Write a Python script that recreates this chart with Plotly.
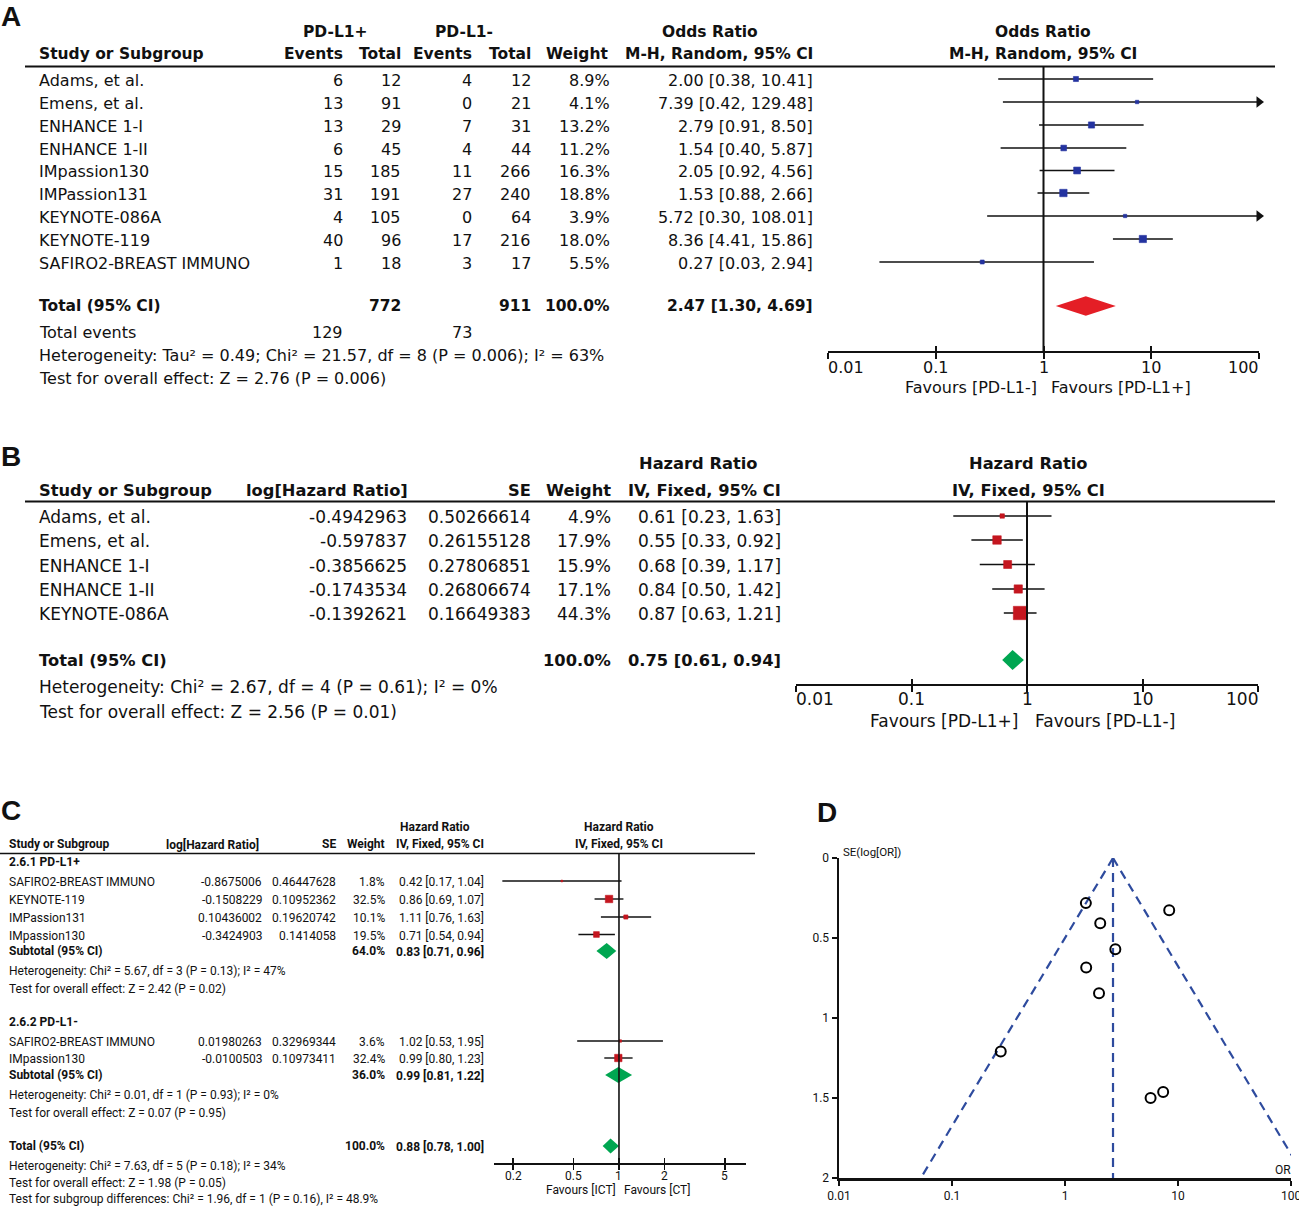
import math
import plotly.graph_objects as go

W, H = 1299, 1207

# ---------------- Panel A data ----------------
a_studies = ["Adams, et al.", "Emens, et al.", "ENHANCE 1-I", "ENHANCE 1-II", "IMpassion130",
             "IMPassion131", "KEYNOTE-086A", "KEYNOTE-119", "SAFIRO2-BREAST IMMUNO"]
a_ev_pos = [6, 13, 13, 6, 15, 31, 4, 40, 1]
a_tot_pos = [12, 91, 29, 45, 185, 191, 105, 96, 18]
a_ev_neg = [4, 0, 7, 4, 11, 27, 0, 17, 3]
a_tot_neg = [12, 21, 31, 44, 266, 240, 64, 216, 17]
a_weight = [8.9, 4.1, 13.2, 11.2, 16.3, 18.8, 3.9, 18.0, 5.5]
a_or = [2.00, 7.39, 2.79, 1.54, 2.05, 1.53, 5.72, 8.36, 0.27]
a_lo = [0.38, 0.42, 0.91, 0.40, 0.92, 0.88, 0.30, 4.41, 0.03]
a_hi = [10.41, 129.48, 8.50, 5.87, 4.56, 2.66, 108.01, 15.86, 2.94]
a_total = dict(tot_pos=772, tot_neg=911, weight=100.0, est=2.47, lo=1.30, hi=4.69, ev_pos=129, ev_neg=73)
a_ticks = [0.01, 0.1, 1, 10, 100]
a_tick_labels = ["0.01", "0.1", "1", "10", "100"]

# ---------------- Panel B data ----------------
b_studies = ["Adams, et al.", "Emens, et al.", "ENHANCE 1-I", "ENHANCE 1-II", "KEYNOTE-086A"]
b_loghr = [-0.4942963, -0.597837, -0.3856625, -0.1743534, -0.1392621]
b_se = [0.50266614, 0.26155128, 0.27806851, 0.26806674, 0.16649383]
b_weight = [4.9, 17.9, 15.9, 17.1, 44.3]
b_hr = [0.61, 0.55, 0.68, 0.84, 0.87]
b_lo = [0.23, 0.33, 0.39, 0.50, 0.63]
b_hi = [1.63, 0.92, 1.17, 1.42, 1.21]
b_total = dict(weight=100.0, est=0.75, lo=0.61, hi=0.94)

# ---------------- Panel C data ----------------
c1_studies = ["SAFIRO2-BREAST IMMUNO", "KEYNOTE-119", "IMPassion131", "IMpassion130"]
c1_loghr = [-0.8675006, -0.1508229, 0.10436002, -0.3424903]
c1_se = [0.46447628, 0.10952362, 0.19620742, 0.1414058]
c1_weight = [1.8, 32.5, 10.1, 19.5]
c1_hr = [0.42, 0.86, 1.11, 0.71]
c1_lo = [0.17, 0.69, 0.76, 0.54]
c1_hi = [1.04, 1.07, 1.63, 0.94]
c1_sub = dict(weight=64.0, est=0.83, lo=0.71, hi=0.96)

c2_studies = ["SAFIRO2-BREAST IMMUNO", "IMpassion130"]
c2_loghr = [0.01980263, -0.0100503]
c2_se = [0.32969344, 0.10973411]
c2_weight = [3.6, 32.4]
c2_hr = [1.02, 0.99]
c2_lo = [0.53, 0.80]
c2_hi = [1.95, 1.23]
c2_sub = dict(weight=36.0, est=0.99, lo=0.81, hi=1.22)
c_total = dict(weight=100.0, est=0.88, lo=0.78, hi=1.00)
c_ticks = [0.2, 0.5, 1, 2, 5]
c_tick_labels = ["0.2", "0.5", "1", "2", "5"]

# ---------------- Panel D data (funnel) ----------------
d_or = [2.00, 7.39, 2.79, 1.54, 2.05, 1.53, 5.72, 8.36, 0.27]
d_se = [0.845, 1.462, 0.570, 0.685, 0.408, 0.282, 1.500, 0.327, 1.21]
d_center = 2.66
d_left_at_se2 = 0.053
d_right_at_se2 = 134.0
d_xticks = [0.01, 0.1, 1, 10, 100]
d_xtick_labels = ["0.01", "0.1", "1", "10", "100"]
d_yticks = [0, 0.5, 1, 1.5, 2]
d_ytick_labels = ["0", "0.5", "1", "1.5", "2"]

# ---------------- styling ----------------
INK = "#111111"
FA = "DejaVu Sans"
FC = "Liberation Sans Narrow, Roboto, sans-serif"
FL = "Liberation Sans, Arial, sans-serif"
BLUE = "#2433A0"
RED_D = "#E41E26"
RED_SQ = "#C4161F"
GREEN = "#00A651"
FUNNEL = "#2E4B9E"

fig = go.Figure()
ann = []


def txt(x, y, s, anchor="left", size=16, bold=False, family=FA, xref="x", xshift=0):
    ann.append(dict(x=x, y=y, xref=xref, yref="y", text=("<b>%s</b>" % s) if bold else s,
                    showarrow=False, xanchor=anchor, yanchor="middle", xshift=xshift,
                    borderpad=0, borderwidth=0,
                    font=dict(size=size, family=family, color=INK)))


def hline(x0, x1, y, w=2):
    fig.add_trace(go.Scatter(x=[x0, x1], y=[y, y], xaxis="x", yaxis="y", mode="lines",
                             line=dict(color=INK, width=w), hoverinfo="skip", showlegend=False))


def forest(xa, rows, lo, hi, est, weights, k, color, xmax, lw=1.6):
    for r, l, h in zip(rows, lo, hi):
        hh = min(h, xmax)
        fig.add_trace(go.Scatter(x=[l, hh], y=[r, r], xaxis=xa, yaxis="y", mode="lines",
                                 line=dict(color=INK, width=lw), hoverinfo="skip", showlegend=False))
        if h > xmax:
            fig.add_trace(go.Scatter(x=[xmax], y=[r], xaxis=xa, yaxis="y", mode="markers",
                                     marker=dict(symbol="triangle-right", size=10, color=INK),
                                     cliponaxis=False, hoverinfo="skip", showlegend=False))
    fig.add_trace(go.Scatter(x=est, y=rows, xaxis=xa, yaxis="y", mode="markers",
                             marker=dict(symbol="square", size=[k * math.sqrt(w) for w in weights],
                                         color=color, opacity=1, line=dict(width=0.6, color=color)),
                             cliponaxis=False, hoverinfo="skip", showlegend=False))


def diamond(xa, y, d, half, color):
    fig.add_trace(go.Scatter(x=[d["lo"], d["est"], d["hi"], d["est"], d["lo"]],
                             y=[y, y - half, y, y + half, y], xaxis=xa, yaxis="y",
                             mode="lines", fill="toself", fillcolor=color, line=dict(width=0, color=color),
                             hoverinfo="skip", showlegend=False))


def vline1(xa, y0, y1, lw=2):
    fig.add_trace(go.Scatter(x=[1, 1], y=[y0, y1], xaxis=xa, yaxis="y", mode="lines",
                             line=dict(color=INK, width=lw), hoverinfo="skip", showlegend=False))


layout_axes = {}


def faxis(main, inner, d0, d1, rng, ypos, tickvals, lw=2, tl=6):
    base = dict(type="log", range=rng, domain=[d0 / W, d1 / W], anchor="free", position=1 - ypos / H,
                tickvals=tickvals, showticklabels=False, showgrid=False, zeroline=False,
                fixedrange=True, automargin=False, tickwidth=lw, tickcolor=INK, ticklen=tl)
    layout_axes[main] = dict(base, showline=True, linewidth=lw, linecolor=INK, ticks="outside")
    layout_axes[inner] = dict(base, showline=False, ticks="inside")


def fmt_ci(e, l, h):
    return "%.2f [%.2f, %.2f]" % (e, l, h)


# ================= Panel A =================
AB = 15.5
txt(1, 16, "A", size=28, bold=True, family=FL)
txt(335, 32, "PD-L1+", anchor="center", bold=True, size=AB)
txt(464, 32, "PD-L1-", anchor="center", bold=True, size=AB)
txt(710, 32, "Odds Ratio", anchor="center", bold=True, size=AB)
txt(1043, 32, "Odds Ratio", anchor="center", bold=True, size=AB)
txt(39, 54, "Study or Subgroup", bold=True, size=AB)
txt(343, 54, "Events", anchor="right", bold=True, size=AB)
txt(401, 54, "Total", anchor="right", bold=True, size=AB)
txt(472, 54, "Events", anchor="right", bold=True, size=AB)
txt(531, 54, "Total", anchor="right", bold=True, size=AB)
txt(609, 54, "Weight", anchor="right", bold=True, size=AB)
txt(813, 54, "M-H, Random, 95% CI", anchor="right", bold=True, size=AB)
txt(1043, 54, "M-H, Random, 95% CI", anchor="center", bold=True, size=AB)
hline(25, 1275, 66.5)

a_rows = [80, 103, 126, 149, 171.5, 194, 217, 240, 263]
for i, r in enumerate(a_rows):
    txt(39, r, a_studies[i])
    txt(343, r, str(a_ev_pos[i]), anchor="right")
    txt(401, r, str(a_tot_pos[i]), anchor="right")
    txt(472, r, str(a_ev_neg[i]), anchor="right")
    txt(531, r, str(a_tot_neg[i]), anchor="right")
    txt(610, r, "%.1f%%" % a_weight[i], anchor="right")
    txt(813, r, fmt_ci(a_or[i], a_lo[i], a_hi[i]), anchor="right")
a_tot_row = 306
txt(39, a_tot_row, "Total (95% CI)", bold=True, size=AB)
txt(401, a_tot_row, str(a_total["tot_pos"]), anchor="right", bold=True, size=AB)
txt(531, a_tot_row, str(a_total["tot_neg"]), anchor="right", bold=True, size=AB)
txt(610, a_tot_row, "%.1f%%" % a_total["weight"], anchor="right", bold=True, size=AB)
txt(813, a_tot_row, fmt_ci(a_total["est"], a_total["lo"], a_total["hi"]), anchor="right", bold=True, size=AB)
txt(39, 332, "Total events")
txt(343, 332, str(a_total["ev_pos"]), anchor="right")
txt(472, 332, str(a_total["ev_neg"]), anchor="right")
txt(39, 355, "Heterogeneity: Tau² = 0.49; Chi² = 21.57, df = 8 (P = 0.006); I² = 63%")
txt(39, 378, "Test for overall effect: Z = 2.76 (P = 0.006)")

faxis("xaxis2", "xaxis3", 828, 1259, [-2, 2], 352, a_ticks)
vline1("x3", 66.5, 352)
forest("x2", [r - 1 for r in a_rows], a_lo, a_hi, a_or, a_weight, 1.7, BLUE, 100)
diamond("x2", a_tot_row, a_total, 9.7, RED_D)
for v, lab in zip(a_ticks, a_tick_labels):
    anc = "left" if v == a_ticks[0] else ("right" if v == a_ticks[-1] else "center")
    txt(math.log10(v), 367, lab, anchor=anc, xref="x2")
txt(0, 387, "Favours [PD-L1-]", anchor="right", xref="x2", xshift=-7)
txt(0, 387, "Favours [PD-L1+]", anchor="left", xref="x2", xshift=7)

# ================= Panel B =================
BS = 17
BB = 16.3
txt(1, 456, "B", size=28, bold=True, family=FL)
txt(698, 463, "Hazard Ratio", anchor="center", bold=True, size=BB)
txt(1028, 463, "Hazard Ratio", anchor="center", bold=True, size=BB)
txt(39, 490, "Study or Subgroup", bold=True, size=BB)
txt(246, 490, "log[Hazard Ratio]", bold=True, size=BB)
txt(531, 490, "SE", anchor="right", bold=True, size=BB)
txt(611, 490, "Weight", anchor="right", bold=True, size=BB)
txt(781, 490, "IV, Fixed, 95% CI", anchor="right", bold=True, size=BB)
txt(1028, 490, "IV, Fixed, 95% CI", anchor="center", bold=True, size=BB)
hline(25, 1275, 501.5)

b_rows = [517, 541, 565.5, 590, 614]
for i, r in enumerate(b_rows):
    txt(39, r, b_studies[i], size=BS)
    txt(407, r, str(b_loghr[i]), anchor="right", size=BS)
    txt(531, r, str(b_se[i]), anchor="right", size=BS)
    txt(611, r, "%.1f%%" % b_weight[i], anchor="right", size=BS)
    txt(781, r, fmt_ci(b_hr[i], b_lo[i], b_hi[i]), anchor="right", size=BS)
b_tot_row = 660
txt(39, b_tot_row, "Total (95% CI)", bold=True, size=BB)
txt(611, b_tot_row, "%.1f%%" % b_total["weight"], anchor="right", bold=True, size=BB)
txt(781, b_tot_row, fmt_ci(b_total["est"], b_total["lo"], b_total["hi"]), anchor="right", bold=True, size=BB)
txt(39, 687, "Heterogeneity: Chi² = 2.67, df = 4 (P = 0.61); I² = 0%", size=BS)
txt(39, 712, "Test for overall effect: Z = 2.56 (P = 0.01)", size=BS)

faxis("xaxis4", "xaxis5", 796, 1258, [-2, 2], 684.5, a_ticks)
vline1("x5", 501.5, 684.5)
forest("x4", [r - 1 for r in b_rows], b_lo, b_hi, b_hr, b_weight, 2.0, RED_SQ, 100)
diamond("x4", b_tot_row, b_total, 10, GREEN)
for v, lab in zip(a_ticks, a_tick_labels):
    anc = "left" if v == a_ticks[0] else ("right" if v == a_ticks[-1] else "center")
    txt(math.log10(v), 699, lab, anchor=anc, xref="x4", size=BS)
txt(0, 721, "Favours [PD-L1+]", anchor="right", xref="x4", xshift=-9, size=BS)
txt(0, 721, "Favours [PD-L1-]", anchor="left", xref="x4", xshift=8, size=BS)

# ================= Panel C =================
CS = 12
txt(1, 810, "C", size=28, bold=True, family=FL)
txt(435, 827, "Hazard Ratio", anchor="center", bold=True, size=CS, family=FC)
txt(619, 827, "Hazard Ratio", anchor="center", bold=True, size=CS, family=FC)
txt(9, 844, "Study or Subgroup", bold=True, size=CS, family=FC)
txt(166, 844, "log[Hazard Ratio]", bold=True, size=CS, family=FC)
txt(336, 844, "SE", anchor="right", bold=True, size=CS, family=FC)
txt(385, 844, "Weight", anchor="right", bold=True, size=CS, family=FC)
txt(484, 844, "IV, Fixed, 95% CI", anchor="right", bold=True, size=CS, family=FC)
txt(619, 844, "IV, Fixed, 95% CI", anchor="center", bold=True, size=CS, family=FC)
hline(0, 755, 853.5, w=1.6)


def c_group(title, title_y, rows, studies, loghr, se, weight, hr, lo, hi, sub, sub_y, het, het_y, test, test_y):
    txt(9, title_y, title, bold=True, size=CS, family=FC)
    for i, r in enumerate(rows):
        txt(9, r, studies[i], size=CS, family=FC)
        txt(262, r, str(loghr[i]), anchor="right", size=CS, family=FC)
        txt(336, r, str(se[i]), anchor="right", size=CS, family=FC)
        txt(385, r, "%.1f%%" % weight[i], anchor="right", size=CS, family=FC)
        txt(484, r, fmt_ci(hr[i], lo[i], hi[i]), anchor="right", size=CS, family=FC)
    txt(9, sub_y, "Subtotal (95% CI)", bold=True, size=CS, family=FC)
    txt(385, sub_y, "%.1f%%" % sub["weight"], anchor="right", bold=True, size=CS, family=FC)
    txt(484, sub_y, fmt_ci(sub["est"], sub["lo"], sub["hi"]), anchor="right", bold=True, size=CS, family=FC)
    txt(9, het_y, het, size=CS, family=FC)
    txt(9, test_y, test, size=CS, family=FC)
    forest("x6", [r - 1 for r in rows], lo, hi, hr, weight, 1.3, RED_SQ, 10, lw=1.4)
    diamond("x6", sub_y, sub, 8, GREEN)


c1_rows = [882, 900, 918, 935.5]
c2_rows = [1042, 1059]
c_group("2.6.1 PD-L1+", 862, c1_rows, c1_studies, c1_loghr, c1_se, c1_weight, c1_hr, c1_lo, c1_hi,
        c1_sub, 951, "Heterogeneity: Chi² = 5.67, df = 3 (P = 0.13); I² = 47%", 971,
        "Test for overall effect: Z = 2.42 (P = 0.02)", 989)
c_group("2.6.2 PD-L1-", 1022, c2_rows, c2_studies, c2_loghr, c2_se, c2_weight, c2_hr, c2_lo, c2_hi,
        c2_sub, 1075, "Heterogeneity: Chi² = 0.01, df = 1 (P = 0.93); I² = 0%", 1095,
        "Test for overall effect: Z = 0.07 (P = 0.95)", 1113)
txt(9, 1146, "Total (95% CI)", bold=True, size=CS, family=FC)
txt(385, 1146, "%.1f%%" % c_total["weight"], anchor="right", bold=True, size=CS, family=FC)
txt(484, 1146, fmt_ci(c_total["est"], c_total["lo"], c_total["hi"]), anchor="right", bold=True, size=CS, family=FC)
txt(9, 1166, "Heterogeneity: Chi² = 7.63, df = 5 (P = 0.18); I² = 34%", size=CS, family=FC)
txt(9, 1183, "Test for overall effect: Z = 1.98 (P = 0.05)", size=CS, family=FC)
txt(9, 1199, "Test for subgroup differences: Chi² = 1.96, df = 1 (P = 0.16), I² = 48.9%",
    size=CS, family=FC)

faxis("xaxis6", "xaxis7", 494, 746, [-0.8245, 0.838], 1163, c_ticks, lw=1.6, tl=5)
vline1("x7", 853.5, 1163, lw=1.6)
diamond("x6", 1146, c_total, 7.5, GREEN)
for v, lab in zip(c_ticks, c_tick_labels):
    txt(math.log10(v), 1176, lab, anchor="center", xref="x6", size=CS, family=FC)
txt(0, 1190, "Favours [ICT]", anchor="right", xref="x6", xshift=-3, size=CS, family=FC)
txt(0, 1190, "Favours [CT]", anchor="left", xref="x6", xshift=5, size=CS, family=FC)

# ================= Panel D =================
txt(817, 812, "D", size=28, bold=True, family=FL)
dash = dict(color=FUNNEL, width=2.2, dash="9px,6px")
fig.add_trace(go.Scatter(x=[d_center, d_left_at_se2], y=[0, 2], xaxis="x8", yaxis="y2", mode="lines",
                         line=dash, hoverinfo="skip", showlegend=False))
fig.add_trace(go.Scatter(x=[d_center, d_right_at_se2], y=[0, 2], xaxis="x8", yaxis="y2", mode="lines",
                         line=dash, hoverinfo="skip", showlegend=False))
fig.add_trace(go.Scatter(x=[d_center, d_center], y=[0, 2], xaxis="x8", yaxis="y2", mode="lines",
                         line=dash, hoverinfo="skip", showlegend=False))
fig.add_trace(go.Scatter(x=d_or, y=d_se, xaxis="x8", yaxis="y2", mode="markers",
                         marker=dict(symbol="circle-open", size=10, color="black", line=dict(width=2)),
                         cliponaxis=False, hoverinfo="skip", showlegend=False))
txt(843, 852, "SE(log[OR])", size=11.5, family=FC)
txt(1291, 1170, "OR", anchor="right", size=12, family=FC)

layout_axes["xaxis8"] = dict(type="log", range=[-2, 2], domain=[839 / W, 1291 / W], anchor="y2",
                             showline=True, linewidth=2.5, linecolor=INK, ticks="outside", ticklen=5,
                             tickwidth=2, tickcolor=INK, tickvals=d_xticks, ticktext=d_xtick_labels,
                             ticklabeloverflow="allow",
                             tickfont=dict(family=FC, size=12, color=INK), showgrid=False, zeroline=False,
                             automargin=False, fixedrange=True)
layout_axes["yaxis2"] = dict(range=[2, 0], domain=[1 - 1178 / H, 1 - 858 / H], anchor="x8",
                             showline=True, linewidth=2.5, linecolor=INK, ticks="outside", ticklen=5,
                             tickwidth=2, tickcolor=INK, tickvals=d_yticks, ticktext=d_ytick_labels,
                             ticklabeloverflow="allow",
                             tickfont=dict(family=FC, size=12, color=INK), showgrid=False, zeroline=False,
                             automargin=False, fixedrange=True)

fig.update_layout(
    template="none",
    width=W, height=H, margin=dict(l=0, r=0, t=0, b=0),
    paper_bgcolor="white", plot_bgcolor="rgba(0,0,0,0)",
    showlegend=False,
    xaxis=dict(range=[0, W], domain=[0, 1], visible=False, fixedrange=True, automargin=False),
    yaxis=dict(range=[H, 0], domain=[0, 1], visible=False, fixedrange=True, automargin=False),
    annotations=ann,
    **layout_axes,
)

fig.write_html("out.html", include_plotlyjs=True,
               config={"displayModeBar": False, "staticPlot": True},
               post_script="document.body.style.margin='0';document.body.style.overflow='hidden';")
